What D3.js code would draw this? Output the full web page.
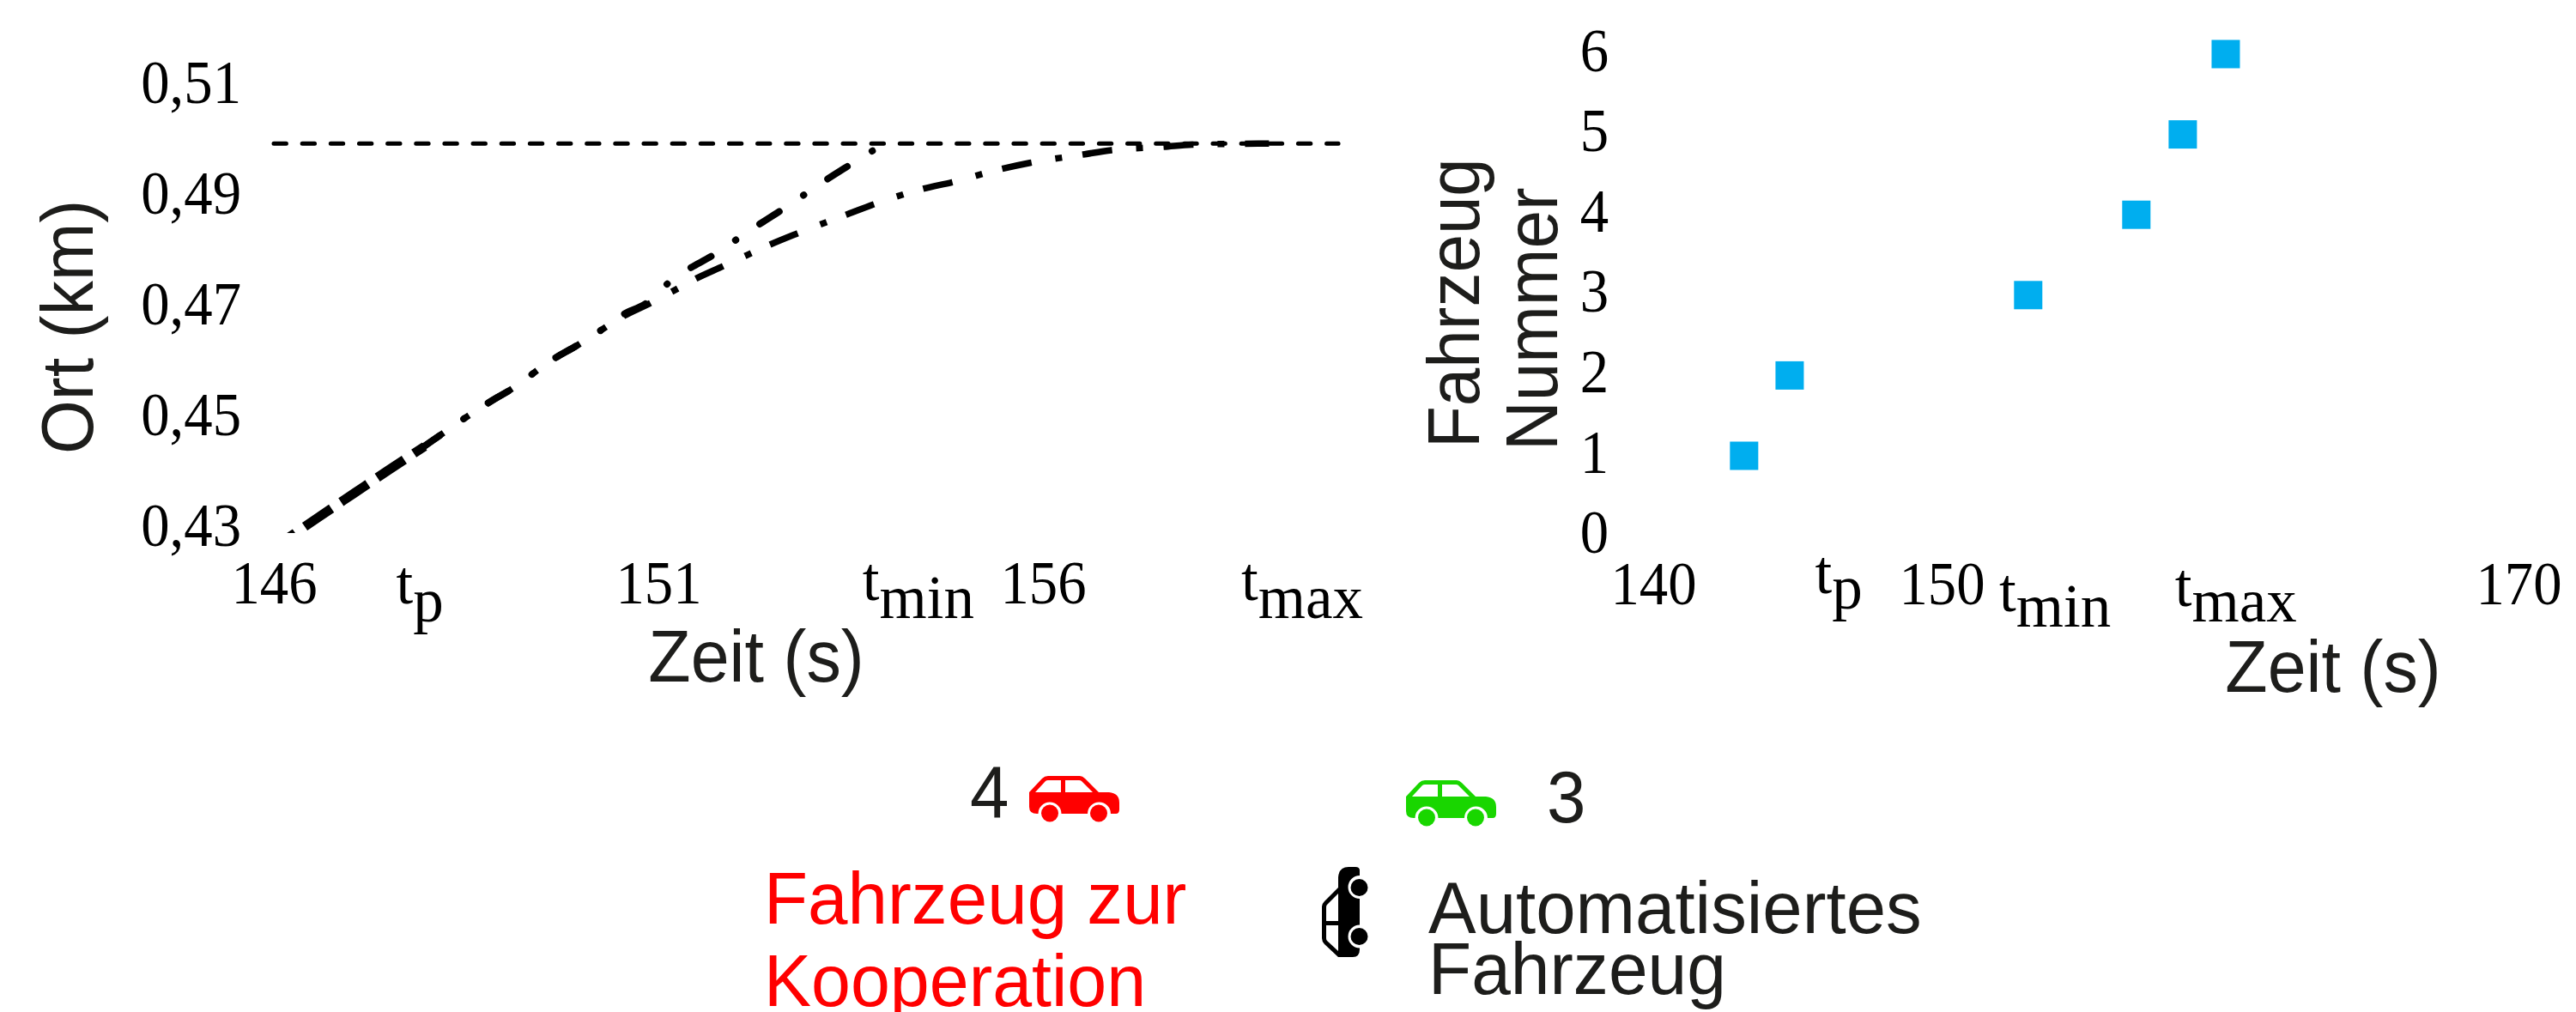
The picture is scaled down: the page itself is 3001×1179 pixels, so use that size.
<!DOCTYPE html>
<html><head><meta charset="utf-8">
<script src="https://cdnjs.cloudflare.com/ajax/libs/d3/7.8.5/d3.min.js"></script>
<style>html,body{margin:0;padding:0;background:#fff}svg{display:block}
.serif{font-family:"Liberation Serif",serif;font-size:71px;fill:#000}
.sans{font-family:"Liberation Sans",sans-serif;font-size:86px;fill:#1d1d1b}
.axis text{font-family:"Liberation Serif",serif;font-size:71px;fill:#000}
</style></head><body>
<svg id="c" width="3001" height="1179"></svg>
<script>
// Left chart data
const leftXTicks=[146,151,156];
const leftYTicks=[0.43,0.45,0.47,0.49,0.51];
const targetPosition=0.5;
const targetLineTimes=[146,159.84];
const approachTime=[146.18,146.57,147.04,147.50,147.96];
const approachPos=[.4286,.4323,.4367,.4410,.4452];
const lowerTime=[147.83,148.19,148.47,148.91,149.06,149.60,149.97,150.22,150.51,150.89,151.19,151.48,151.84,152.15,152.45,152.80,153.44,153.80,154.44,154.82,155.46,155.83,156.52,156.89,157.57,157.94,158.94];
const lowerPos=[.4440,.4475,.4502,.4541,.4553,.4607,.4637,.4659,.4685,.4711,.4733,.4755,.4778,.4798,.4817,.4837,.4871,.4890,.4918,.4930,.4954,.4965,.4980,.4988,.4994,.4998,.5];
const upperTime=[147.83,148.19,148.47,148.91,149.06,149.60,149.97,150.22,150.51,150.89,151.09,151.37,151.70,151.98,152.28,152.56,152.86,153.18,153.44,153.76,154.0];
const upperPos=[.4440,.4475,.4502,.4541,.4553,.4607,.4637,.4659,.4688,.4716,.4743,.4771,.4797,.4823,.4851,.4876,.4904,.4934,.4957,.4985,.5];
const leftMarkNames=["p","min","max"];
const leftMarkTimes=[147.9,154.38,159.37];
// Right chart data
const rightXTicks=[140,150,170];
const rightYTicks=[0,1,2,3,4,5,6];
const vehicleNumber=[1,2,3,4,5,6];
const vehicleTime=[143.15,144.73,153.0,156.75,158.36,159.85];
const rightMarkNames=["p","min","max"];
const rightMarkTimes=[146.43,153.93,160.2];
// Text
const xTitle="Zeit (s)", leftYTitle="Ort (km)", rightYTitle=["Fahrzeug","Nummer"];
const redLines=["Fahrzeug zur","Kooperation"], blackLines=["Automatisiertes","Fahrzeug"];
const legendNumbers=["4","3"];

const svg=d3.select("#c");
const xL=d3.scaleLinear().domain([146,160]).range([319,319+14*89.6]);
const yL=d3.scaleLinear().domain([0.43,0.51]).range([618,618-0.08*6440]);
const xR=d3.scaleLinear().domain([140,170]).range([1926,2934]);
const yR=d3.scaleLinear().domain([0,6]).range([624.6,63]);
const narrow="scale(.94,1)";

function cleanAxis(g){g.select(".domain").remove();g.selectAll("line").remove();g.attr("class","axis");}
svg.append("g").attr("transform","translate(0,703)")
  .call(d3.axisBottom(xL).tickValues(leftXTicks).tickSize(0).tickFormat(d3.format("d")))
  .call(g=>{cleanAxis(g);g.selectAll("text").attr("dy",0).attr("y",0).attr("transform",narrow);});
const comma=d=>d.toFixed(2).replace(".",",");
svg.append("g").attr("transform","translate(281,0)")
  .call(d3.axisLeft(yL).tickValues(leftYTicks).tickSize(0).tickPadding(0).tickFormat(comma))
  .call(g=>{cleanAxis(g);g.selectAll("text").attr("dy",17).attr("x",0).attr("transform",narrow);});
svg.append("g").attr("transform","translate(0,704)")
  .call(d3.axisBottom(xR).tickValues(rightXTicks).tickSize(0).tickFormat(d3.format("d")))
  .call(g=>{cleanAxis(g);g.selectAll("text").attr("dy",0).attr("y",0).attr("transform",narrow);});
svg.append("g").attr("transform","translate(1874,0)")
  .call(d3.axisLeft(yR).tickValues(rightYTicks).tickSize(0).tickPadding(0).tickFormat(d3.format("d")))
  .call(g=>{cleanAxis(g);g.selectAll("text").attr("dy",19).attr("x",0).attr("transform",narrow);});

function mark(scale,t,name,base,subDy){
  const txt=svg.append("text").attr("class","serif").attr("text-anchor","middle").attr("x",scale(t)).attr("y",base);
  txt.append("tspan").text("t");
  txt.append("tspan").attr("dy",subDy).text(name);
}
const leftBase=[703,699,699];
leftMarkNames.forEach((n,i)=>mark(xL,leftMarkTimes[i],n,leftBase[i],21));
const rightBase=[691,712,706];
rightMarkNames.forEach((n,i)=>mark(xR,rightMarkTimes[i],n,rightBase[i],18));

// Left lines
svg.append("defs").append("clipPath").attr("id","clipL").append("rect").attr("x",310).attr("y",100).attr("width",1300).attr("height",521);
const plot=svg.append("g").attr("clip-path","url(#clipL)");
const ln=d3.line().x(d=>xL(d[0])).y(d=>yL(d[1])).curve(d3.curveMonotoneX);
plot.append("line").attr("x1",xL(targetLineTimes[0])).attr("x2",xL(targetLineTimes[1])).attr("y1",yL(targetPosition)).attr("y2",yL(targetPosition))
  .attr("stroke","#000").attr("stroke-width",5).attr("stroke-linecap","round").attr("stroke-dasharray","14.4 18.75");

// length along a path at a screen x, used to put the dash pattern in phase
function lengthAtX(node,x){
  let a=0,b=node.getTotalLength();
  for(let i=0;i<40;i++){const m=(a+b)/2; if(node.getPointAtLength(m).x<x)a=m; else b=m;}
  return (a+b)/2;
}
const drawLine=(t,v,width,dash,period,anchorX,cap)=>{
  const p=plot.append("path").attr("d",ln(d3.zip(t,v))).attr("fill","none").attr("stroke","#000").attr("stroke-width",width).attr("stroke-linecap",cap);
  p.attr("stroke-dasharray",dash).attr("stroke-dashoffset",-(lengthAtX(p.node(),anchorX)%period));
};
drawLine(approachTime,approachPos,11,"37.6 13.4",51,355,"butt");
drawLine(lowerTime,lowerPos,7.5,"35 28 8 24",95,897,"butt");
drawLine(upperTime,upperPos,8,"27 34 0.5 33.5",95,885,"round");

// Squares
const sq=33;
svg.selectAll("rect.v").data(d3.zip(vehicleTime,vehicleNumber)).join("rect").attr("class","v")
  .attr("x",d=>xR(d[0])-sq/2).attr("y",d=>yR(d[1])-sq/2).attr("width",sq).attr("height",sq).attr("fill","#00aeef");

// Axis titles
const title=(s,x,y,rot,anchor,sx)=>svg.append("text").attr("class","sans").attr("text-anchor",anchor)
  .attr("transform",`translate(${x},${y})`+(rot?" rotate(-90)":"")+` scale(${sx},1)`).text(s);
title(leftYTitle,108,381,true,"middle",.94);
title(xTitle,881,794,false,"middle",.94);
title(xTitle,2718,806,false,"middle",.94);
title(rightYTitle[0],1723,522,true,"start",.93);
title(rightYTitle[1],1814,525,true,"start",.93);

// Cars
const carBody="M0,19 L15,3 Q18,0 22,0 L59,0 Q62,0 65,3 L81,19 L93,19 Q105,20 105,31 L105,39 Q105,44 101,44 L95,44 A13.5,13.5 0 0 0 68,44 L37.5,44 A13.5,13.5 0 0 0 10.5,44 L9,44 Q0,44 0,36 Z";
const carWin1="M7,19 L19,6 Q20,5 22,5 L37,5 L37,19 Z", carWin2="M42,5 L58,5 Q60,5 61,6 L74,19 L42,19 Z";
function car(transform,color){
  const g=svg.append("g").attr("transform",transform);
  g.append("path").attr("d",carBody).attr("fill",color);
  g.append("path").attr("d",carWin1).attr("fill","#fff");
  g.append("path").attr("d",carWin2).attr("fill","#fff");
  [24,81].forEach(cx=>g.append("circle").attr("cx",cx).attr("cy",43.5).attr("r",10).attr("fill",color));
}
car("translate(1199,904)","#ff0000");
car("translate(1638,909)","#19d600");
car("translate(1540,1115) rotate(-90)","#000");

// Legend text
const legendText=(s,x,y,fill,sx)=>svg.append("text").attr("class","sans").attr("transform",`translate(${x},${y}) scale(${sx},1)`).style("fill",fill).text(s);
legendText(legendNumbers[0],1130,952,"#1d1d1b",.95);
legendText(legendNumbers[1],1802,958,"#1d1d1b",.95);
legendText(redLines[0],890,1076,"#ff0000",.972);
legendText(redLines[1],890,1172,"#ff0000",.96);
legendText(blackLines[0],1664,1087,"#1d1d1b",.97);
legendText(blackLines[1],1664,1158,"#1d1d1b",.955);
</script></body></html>
